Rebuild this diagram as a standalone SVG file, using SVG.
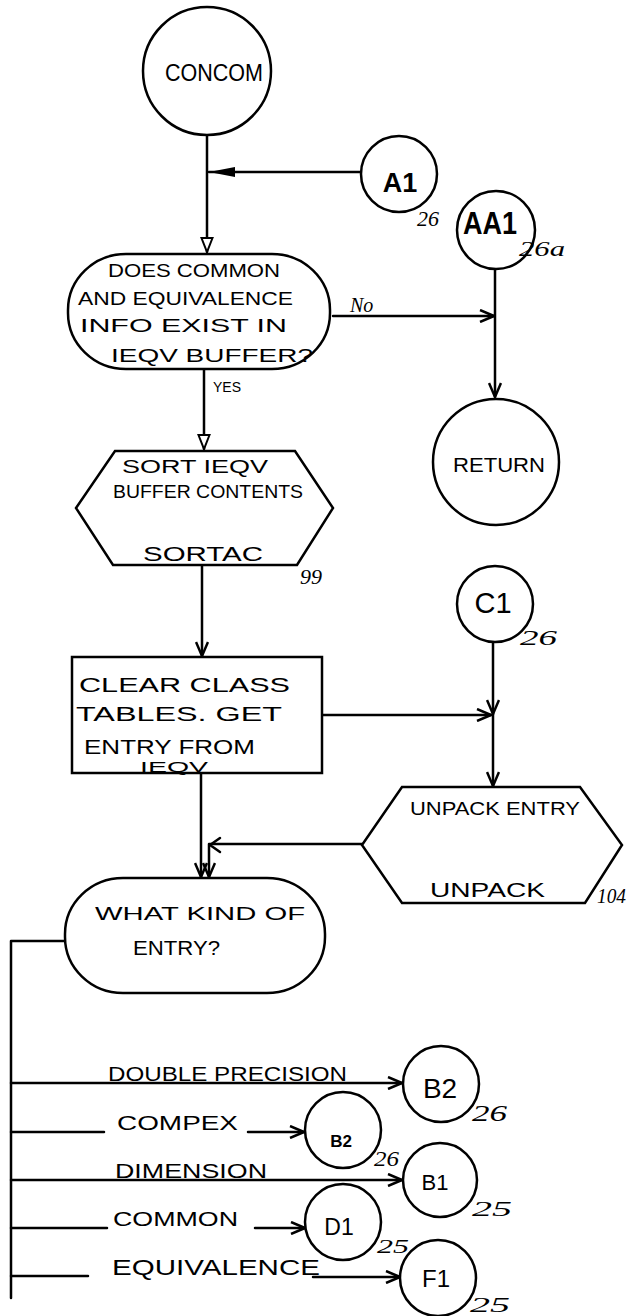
<svg xmlns="http://www.w3.org/2000/svg" width="635" height="1316" viewBox="0 0 635 1316">
<style>
.s{fill:#fff;stroke:#000;stroke-width:2.5}
.c{fill:none;stroke:#000;stroke-width:2.5;stroke-linecap:round;stroke-linejoin:round}
.t{font-family:"Liberation Sans",Arial,sans-serif;fill:#000}
.n{font-family:"Liberation Serif","Times New Roman",serif;font-style:italic;fill:#000}
</style>
<defs>
<marker id="vee" viewBox="0 0 16 14" refX="15" refY="7" markerWidth="16" markerHeight="14" orient="auto" markerUnits="userSpaceOnUse"><path d="M1,1 L15,7 L1,13" fill="none" stroke="#000" stroke-width="2.5"/></marker>
<marker id="tri" viewBox="0 0 16 14" refX="15" refY="7" markerWidth="16" markerHeight="14" orient="auto" markerUnits="userSpaceOnUse"><path d="M1,1.5 L15,7 L1,12.5 Z" fill="#fff" stroke="#000" stroke-width="2"/></marker>
<marker id="ftri" viewBox="0 0 28 14" refX="27" refY="7" markerWidth="28" markerHeight="14" orient="auto" markerUnits="userSpaceOnUse"><path d="M1,2 L27,7 L1,12 Z" fill="#000"/></marker>
</defs>
<rect width="635" height="1316" fill="#fff"/>

<g id="connectors">
<line class="c" x1="207" y1="135" x2="207" y2="252" marker-end="url(#tri)"/>
<line class="c" x1="361" y1="172" x2="209" y2="172" marker-end="url(#ftri)"/>
<line class="c" x1="333" y1="316" x2="494" y2="316" marker-end="url(#vee)"/>
<line class="c" x1="495" y1="269" x2="495" y2="397" marker-end="url(#vee)"/>
<line class="c" x1="204" y1="369" x2="204" y2="449" marker-end="url(#tri)"/>
<line class="c" x1="202" y1="565" x2="202" y2="656" marker-end="url(#vee)"/>
<line class="c" x1="322" y1="715" x2="491" y2="715" marker-end="url(#vee)"/>
<line class="c" x1="493" y1="642" x2="493" y2="714" marker-end="url(#vee)"/>
<line class="c" x1="493" y1="714" x2="493" y2="786" marker-end="url(#vee)"/>
<line class="c" x1="201" y1="773" x2="201" y2="877" marker-end="url(#vee)"/>
<path class="c" d="M362,844 L209,844 L209,877" marker-end="url(#vee)"/>
<path class="c" d="M220,838 L210,845 L220,852"/>
<path class="c" d="M65,941 L11,941 L11,1298"/>
<line class="c" x1="11" y1="1083" x2="402" y2="1083" marker-end="url(#vee)"/>
<line class="c" x1="11" y1="1132" x2="104" y2="1132"/>
<line class="c" x1="248" y1="1132" x2="304" y2="1132" marker-end="url(#vee)"/>
<line class="c" x1="11" y1="1180" x2="402" y2="1180" marker-end="url(#vee)"/>
<line class="c" x1="11" y1="1228" x2="107" y2="1228"/>
<line class="c" x1="255" y1="1228" x2="305" y2="1228" marker-end="url(#vee)"/>
<line class="c" x1="11" y1="1276" x2="88" y2="1276"/>
<line class="c" x1="313" y1="1277" x2="400" y2="1277" marker-end="url(#vee)"/>
<text class="n" x="350" y="312" style="font-size:20px">No</text>
<text class="t" x="213" y="392" style="font-size:14px">YES</text>
<text class="t" x="108" y="1081" style="font-size:20px" textLength="239" lengthAdjust="spacingAndGlyphs">DOUBLE PRECISION</text>
<text class="t" x="117" y="1130" style="font-size:20px" textLength="121" lengthAdjust="spacingAndGlyphs">COMPEX</text>
<text class="t" x="115" y="1178" style="font-size:20px" textLength="152" lengthAdjust="spacingAndGlyphs">DIMENSION</text>
<text class="t" x="113" y="1226" style="font-size:20px" textLength="125" lengthAdjust="spacingAndGlyphs">COMMON</text>
<text class="t" x="112" y="1275" style="font-size:22px" textLength="208" lengthAdjust="spacingAndGlyphs">EQUIVALENCE</text>
</g>

<g id="concom">
<circle class="s" cx="207" cy="71" r="64"/>
<text class="t" x="214" y="81" style="font-size:24px" text-anchor="middle" textLength="98" lengthAdjust="spacingAndGlyphs">CONCOM</text>
</g>

<g id="a1">
<circle class="s" cx="399" cy="174" r="38"/>
<text class="t" x="400" y="192" style="font-size:27px;font-weight:bold" text-anchor="middle">A1</text>
<text class="n" x="417" y="226" style="font-size:22px">26</text>
</g>

<g id="aa1">
<circle class="s" cx="496" cy="230" r="39"/>
<text class="t" x="490" y="234" style="font-size:32px;font-weight:bold" text-anchor="middle" textLength="54" lengthAdjust="spacingAndGlyphs">AA1</text>
<text class="n" x="519" y="256" style="font-size:20px" textLength="46" lengthAdjust="spacingAndGlyphs">26a</text>
</g>

<g id="decision-common">
<rect class="s" x="68" y="254" width="262" height="115" rx="58" ry="56"/>
<text class="t" x="108" y="277" style="font-size:19px" textLength="172" lengthAdjust="spacingAndGlyphs">DOES COMMON</text>
<text class="t" x="78" y="305" style="font-size:19px" textLength="215" lengthAdjust="spacingAndGlyphs">AND EQUIVALENCE</text>
<text class="t" x="80" y="332" style="font-size:19px" textLength="207" lengthAdjust="spacingAndGlyphs">INFO EXIST IN</text>
<text class="t" x="111" y="362" style="font-size:19px" textLength="202" lengthAdjust="spacingAndGlyphs">IEQV BUFFER?</text>
</g>

<g id="return">
<circle class="s" cx="496" cy="462" r="63"/>
<text class="t" x="453" y="472" style="font-size:20px" textLength="92" lengthAdjust="spacingAndGlyphs">RETURN</text>
</g>

<g id="sortac">
<polygon class="s" points="115,451 295,451 333,508 297,565 113,565 76,508"/>
<text class="t" x="122" y="473" style="font-size:19px" textLength="146" lengthAdjust="spacingAndGlyphs">SORT IEQV</text>
<text class="t" x="113" y="498" style="font-size:19px" textLength="190" lengthAdjust="spacingAndGlyphs">BUFFER CONTENTS</text>
<text class="t" x="143" y="561" style="font-size:20px" textLength="120" lengthAdjust="spacingAndGlyphs">SORTAC</text>
<text class="n" x="300" y="584" style="font-size:22px">99</text>
</g>

<g id="clear">
<rect class="s" x="72" y="657" width="250" height="116"/>
<text class="t" x="79" y="692" style="font-size:20px" textLength="211" lengthAdjust="spacingAndGlyphs">CLEAR CLASS</text>
<text class="t" x="76" y="721" style="font-size:21px" textLength="206" lengthAdjust="spacingAndGlyphs">TABLES. GET</text>
<text class="t" x="84" y="754" style="font-size:21px" textLength="171" lengthAdjust="spacingAndGlyphs">ENTRY FROM</text>
<text class="t" x="140" y="772" style="font-size:14px" textLength="68" lengthAdjust="spacingAndGlyphs">IEQV</text>
</g>

<g id="c1">
<circle class="s" cx="495" cy="604" r="38"/>
<text class="t" x="493" y="613" style="font-size:29px" text-anchor="middle">C1</text>
<text class="n" x="520" y="645" style="font-size:22px" textLength="37" lengthAdjust="spacingAndGlyphs">26</text>
</g>

<g id="unpack">
<polygon class="s" points="402,787 580,787 622,845 585,903 402,903 362,845"/>
<text class="t" x="410" y="815" style="font-size:19px" textLength="170" lengthAdjust="spacingAndGlyphs">UNPACK ENTRY</text>
<text class="t" x="430" y="897" style="font-size:20px" textLength="115" lengthAdjust="spacingAndGlyphs">UNPACK</text>
<text class="n" x="597" y="903" style="font-size:20px" textLength="29" lengthAdjust="spacingAndGlyphs">104</text>
</g>

<g id="decision-kind">
<rect class="s" x="65" y="878" width="260" height="115" rx="58" ry="56"/>
<text class="t" x="95" y="920" style="font-size:18px" textLength="210" lengthAdjust="spacingAndGlyphs">WHAT KIND OF</text>
<text class="t" x="133" y="955" style="font-size:21px" textLength="87" lengthAdjust="spacingAndGlyphs">ENTRY?</text>
</g>

<g id="b2-double">
<circle class="s" cx="441" cy="1084" r="38"/>
<text class="t" x="440" y="1098" style="font-size:28px" text-anchor="middle">B2</text>
<text class="n" x="472" y="1121" style="font-size:24px" textLength="35" lengthAdjust="spacingAndGlyphs">26</text>
</g>

<g id="b2-complex">
<circle class="s" cx="343" cy="1130" r="38"/>
<text class="t" x="341" y="1147" style="font-size:17px;font-weight:bold" text-anchor="middle">B2</text>
<text class="n" x="374" y="1166" style="font-size:22px" textLength="25" lengthAdjust="spacingAndGlyphs">26</text>
</g>

<g id="b1">
<circle class="s" cx="440" cy="1180" r="37"/>
<text class="t" x="435" y="1190" style="font-size:22px" text-anchor="middle">B1</text>
<text class="n" x="472" y="1216" style="font-size:20px" textLength="40" lengthAdjust="spacingAndGlyphs">25</text>
</g>

<g id="d1">
<circle class="s" cx="343" cy="1222" r="38"/>
<text class="t" x="339" y="1235" style="font-size:23px" text-anchor="middle">D1</text>
<text class="n" x="377" y="1253" style="font-size:18px" textLength="32" lengthAdjust="spacingAndGlyphs">25</text>
</g>

<g id="f1">
<circle class="s" cx="438" cy="1278" r="38"/>
<text class="t" x="436" y="1287" style="font-size:24px" text-anchor="middle">F1</text>
<text class="n" x="470" y="1312" style="font-size:20px" textLength="40" lengthAdjust="spacingAndGlyphs">25</text>
</g>
</svg>
